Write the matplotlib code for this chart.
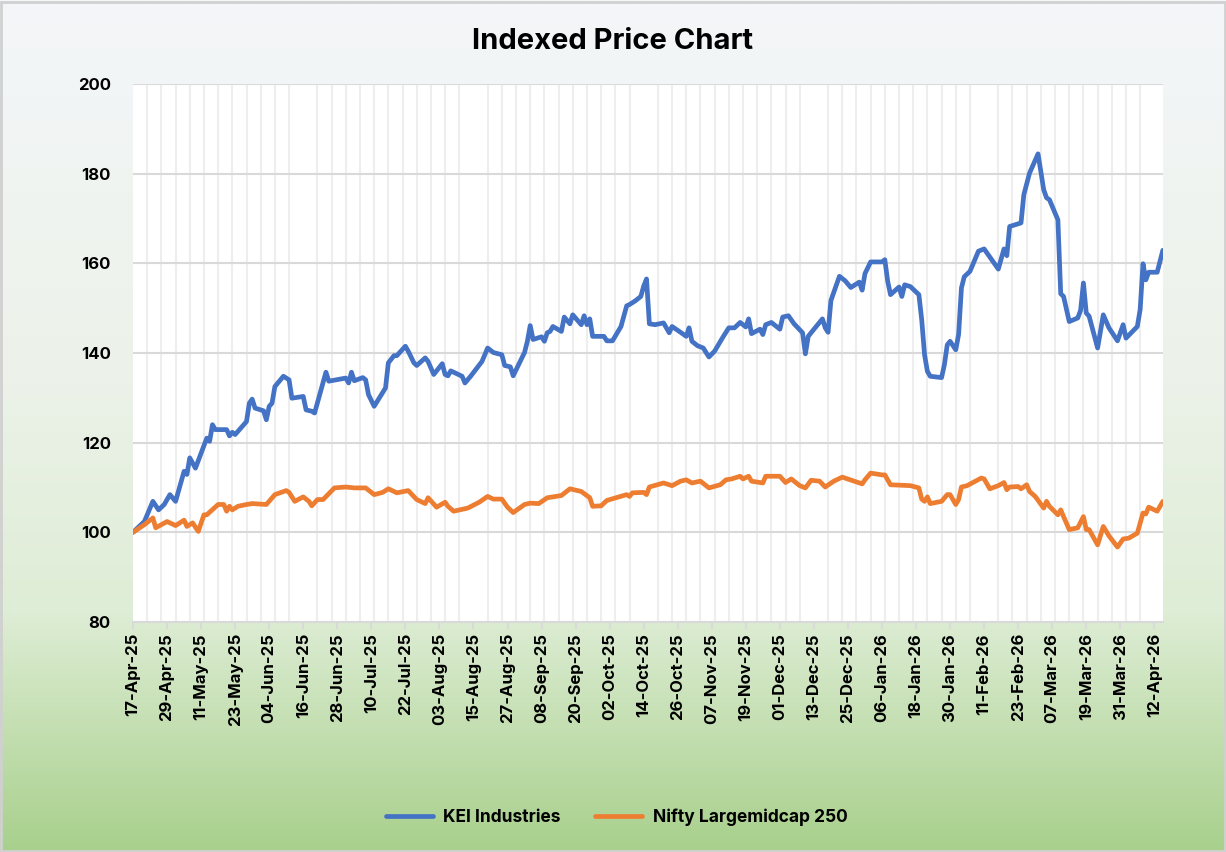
import numpy as np
import pandas as pd
import matplotlib
matplotlib.use('Agg')
import matplotlib.pyplot as plt
import matplotlib.dates as mdates
from matplotlib.patches import Rectangle

plt.rcParams['font.family'] = ['Inter', 'DejaVu Sans']
plt.rcParams['font.weight'] = 'bold'

# days counted from 17-Apr-25, indexed values
start = pd.Timestamp('2025-04-17')

kei_day = [0, 4, 7, 9, 11, 13, 15, 18, 19, 20, 22, 26, 27, 28, 29, 33, 34, 35, 36, 40,
           41, 42, 43, 46, 47, 48, 49, 50, 53, 55, 56, 60, 61, 63, 64, 68, 69, 75, 76, 77,
           78, 81, 82, 83, 85, 89, 90, 92, 93, 96, 97, 99, 100, 103, 104, 106, 109, 110, 111, 112,
           116, 117, 119, 123, 125, 127, 130, 131, 133, 134, 138, 139, 140, 141, 144, 145, 146, 147, 148, 151,
           152, 154, 155, 158, 159, 160, 161, 162, 166, 167, 169, 172, 174, 175, 177, 179, 180, 181, 182, 184,
           187, 189, 190, 193, 195, 196, 197, 199, 201, 203, 205, 208, 210, 212, 214, 216, 217, 218, 221, 222,
           223, 225, 228, 229, 231, 233, 236, 237, 238, 239, 243, 244, 245, 246, 249, 251, 253, 256, 257, 258,
           260, 264, 265, 266, 267, 270, 271, 272, 274, 277, 278, 279, 280, 281, 285, 286, 287, 288, 290, 291,
           292, 293, 295, 298, 300, 305, 307, 308, 309, 311, 313, 314, 316, 319, 321, 322, 323, 326, 327, 328,
           330, 333, 334, 335, 336, 337, 340, 342, 344, 347, 349, 350, 354, 355, 356, 357, 358, 361, 363]
kei_val = [100.0, 102.4, 106.9, 105.0, 106.2, 108.4, 106.9, 113.6, 112.9, 116.6, 114.3, 121.0, 120.3, 124.0, 122.9, 122.9, 121.5, 122.3, 121.8, 124.7,
           128.8, 129.7, 127.7, 127.1, 125.1, 128.1, 128.8, 132.5, 134.8, 134.0, 129.9, 130.3, 127.3, 127.0, 126.6, 135.7, 133.7, 134.4, 133.3, 135.7,
           133.8, 134.5, 134.0, 130.7, 128.1, 132.2, 137.8, 139.4, 139.4, 141.5, 140.4, 137.8, 137.2, 138.9, 138.1, 135.2, 137.6, 135.2, 134.9, 136.0,
           134.8, 133.3, 134.8, 138.1, 141.1, 140.1, 139.6, 137.2, 136.9, 134.9, 140.1, 142.6, 146.1, 143.0, 143.6, 142.6, 144.5, 144.8, 145.9, 144.8,
           148.0, 146.5, 148.5, 146.3, 148.3, 146.3, 147.6, 143.7, 143.7, 142.7, 142.7, 145.9, 150.5, 150.8, 151.6, 152.6, 154.9, 156.5, 146.5, 146.3,
           146.7, 144.5, 145.9, 144.6, 143.7, 145.6, 142.6, 141.6, 141.1, 139.1, 140.4, 143.6, 145.6, 145.6, 146.8, 145.8, 147.6, 144.3, 145.3, 144.1,
           146.3, 146.8, 145.3, 148.0, 148.3, 146.5, 144.5, 139.8, 143.7, 144.5, 147.6, 145.6, 144.6, 151.7, 157.1, 156.1, 154.6, 155.8, 154.0, 157.7,
           160.3, 160.3, 160.8, 156.0, 153.0, 154.7, 152.6, 155.2, 154.8, 153.0, 147.4, 139.6, 135.9, 134.8, 134.5, 137.4, 141.8, 142.6, 140.7, 144.1,
           154.5, 157.0, 158.2, 162.7, 163.2, 158.7, 163.2, 161.7, 168.2, 168.6, 169.0, 175.3, 180.1, 184.4, 176.4, 174.6, 174.2, 169.7, 153.2, 152.6,
           147.0, 147.8, 149.5, 155.6, 148.9, 148.2, 141.1, 148.5, 145.6, 142.7, 146.3, 143.3, 145.9, 149.7, 159.9, 156.3, 158.0, 158.0, 162.9]

nifty_day = [0, 4, 7, 8, 12, 15, 18, 19, 21, 23, 25, 26, 30, 32, 33, 34, 35, 37, 40, 42,
             47, 50, 54, 55, 57, 60, 62, 63, 65, 67, 71, 75, 78, 82, 85, 88, 90, 93, 97, 100,
             103, 104, 107, 110, 111, 113, 118, 122, 125, 127, 130, 132, 134, 138, 140, 143, 146, 151, 154, 158,
             161, 162, 165, 167, 174, 175, 176, 180, 181, 182, 187, 190, 193, 195, 197, 200, 203, 207, 209, 211,
             214, 215, 217, 218, 222, 223, 228, 230, 232, 235, 237, 239, 242, 244, 247, 250, 257, 258, 260, 264,
             265, 267, 274, 277, 278, 279, 280, 281, 285, 287, 288, 290, 291, 292, 294, 299, 300, 302, 305, 307,
             308, 309, 312, 313, 315, 316, 318, 321, 322, 323, 326, 327, 328, 330, 333, 335, 336, 337, 340, 342,
             344, 347, 349, 351, 354, 356, 357, 358, 361, 363]
nifty_val = [100.0, 101.7, 103.2, 101.0, 102.4, 101.5, 102.7, 101.3, 102.1, 100.2, 103.9, 103.9, 106.2, 106.2, 104.7, 105.8, 105.0, 105.8, 106.2, 106.4,
             106.2, 108.4, 109.3, 108.9, 106.9, 107.9, 106.9, 105.9, 107.3, 107.3, 109.9, 110.1, 109.9, 109.9, 108.4, 108.9, 109.7, 108.8, 109.3, 107.3,
             106.4, 107.7, 105.6, 106.7, 105.8, 104.7, 105.4, 106.7, 108.0, 107.4, 107.4, 105.6, 104.4, 106.2, 106.5, 106.4, 107.7, 108.2, 109.7, 109.1,
             107.7, 105.8, 105.9, 107.1, 108.4, 108.0, 108.8, 108.9, 108.4, 110.1, 111.0, 110.4, 111.4, 111.7, 111.0, 111.4, 109.9, 110.6, 111.7, 111.9,
             112.5, 111.9, 112.5, 111.4, 111.0, 112.5, 112.5, 111.1, 111.9, 110.4, 109.9, 111.6, 111.4, 110.1, 111.4, 112.3, 110.8, 111.7, 113.2, 112.8,
             112.8, 110.6, 110.4, 109.9, 107.4, 106.9, 107.9, 106.4, 106.9, 108.4, 108.4, 106.2, 107.3, 110.1, 110.4, 112.1, 111.9, 109.7, 110.4, 111.1,
             109.5, 110.1, 110.2, 109.7, 110.6, 109.1, 108.0, 105.4, 106.9, 105.8, 103.9, 105.0, 103.5, 100.6, 101.0, 103.5, 100.6, 100.6, 97.2, 101.3,
             99.2, 96.7, 98.5, 98.7, 99.8, 104.3, 104.1, 105.6, 104.7, 106.9]

kei_dates = start + pd.to_timedelta(kei_day, unit='D')
nifty_dates = start + pd.to_timedelta(nifty_day, unit='D')
end = start + pd.Timedelta(days=363)

fig = plt.figure(figsize=(12.26, 8.52), dpi=100)

# gradient background
bg = fig.add_axes([0, 0, 1, 1], zorder=-10)
stops = [0.0, 0.45, 0.72, 1.0]
cols = np.array([[244, 246, 249], [236, 242, 233], [222, 237, 213], [168, 208, 140]]) / 255
yy = np.linspace(0, 1, 400)
grad = np.stack([np.interp(yy, stops, cols[:, k]) for k in range(3)], axis=1)
bg.imshow(grad[:, None, :], aspect='auto', extent=[0, 1, 0, 1], origin='upper')
bg.set_xlim(0, 1)
bg.set_ylim(0, 1)
bg.axis('off')
fig.patches.append(Rectangle((0.001, 0.001), 0.998, 0.997, transform=fig.transFigure,
                             fill=False, edgecolor='#d0d0d0', linewidth=2))

ax = fig.add_axes([0.1085, 0.270, 0.840, 0.6315])
ax.set_facecolor('white')

ax.plot(kei_dates, kei_val, color='#4472C4', linewidth=3.4, solid_joinstyle='round',
        solid_capstyle='round', label='KEI Industries', zorder=3)
ax.plot(nifty_dates, nifty_val, color='#ED7D31', linewidth=3.4, solid_joinstyle='round',
        solid_capstyle='round', label='Nifty Largemidcap 250', zorder=3)

ax.set_xlim(start, end)
ax.set_ylim(80, 200)
ax.set_yticks(range(80, 201, 20))

major = pd.date_range(start, end, freq='12D')
minor = pd.date_range(start, end, freq='5D')
ax.set_xticks(major)
ax.set_xticks(minor, minor=True)
ax.xaxis.set_major_formatter(mdates.DateFormatter('%d-%b-%y'))
ax.tick_params(axis='x', which='major', length=5, width=1.5, color='#d9d9d9',
               labelrotation=90, labelsize=12, pad=3)
ax.tick_params(axis='x', which='minor', length=0)
ax.tick_params(axis='y', length=0, labelsize=12, pad=16)
for lab in ax.get_xticklabels() + ax.get_yticklabels():
    lab.set_fontweight('bold')

ax.grid(axis='x', which='minor', color='#eeeeee', linewidth=1.5, zorder=0)
ax.grid(axis='y', which='major', color='#d9d9d9', linewidth=1.5, zorder=0)
ax.set_axisbelow(True)
for s in ['top', 'left', 'right']:
    ax.spines[s].set_visible(False)
ax.spines['bottom'].set_color('#d9d9d9')
ax.spines['bottom'].set_linewidth(1.5)

fig.text(0.5, 0.951, 'Indexed Price Chart', ha='center', va='center',
         fontsize=21, fontweight='bold')

fig.legend(loc='center', bbox_to_anchor=(0.503, 0.041), ncol=2, frameon=False,
           prop={'size': 12.5, 'weight': 'bold'}, handlelength=2.7, columnspacing=2.0,
           handletextpad=0.6)

fig.savefig('out.png', dpi=100)
